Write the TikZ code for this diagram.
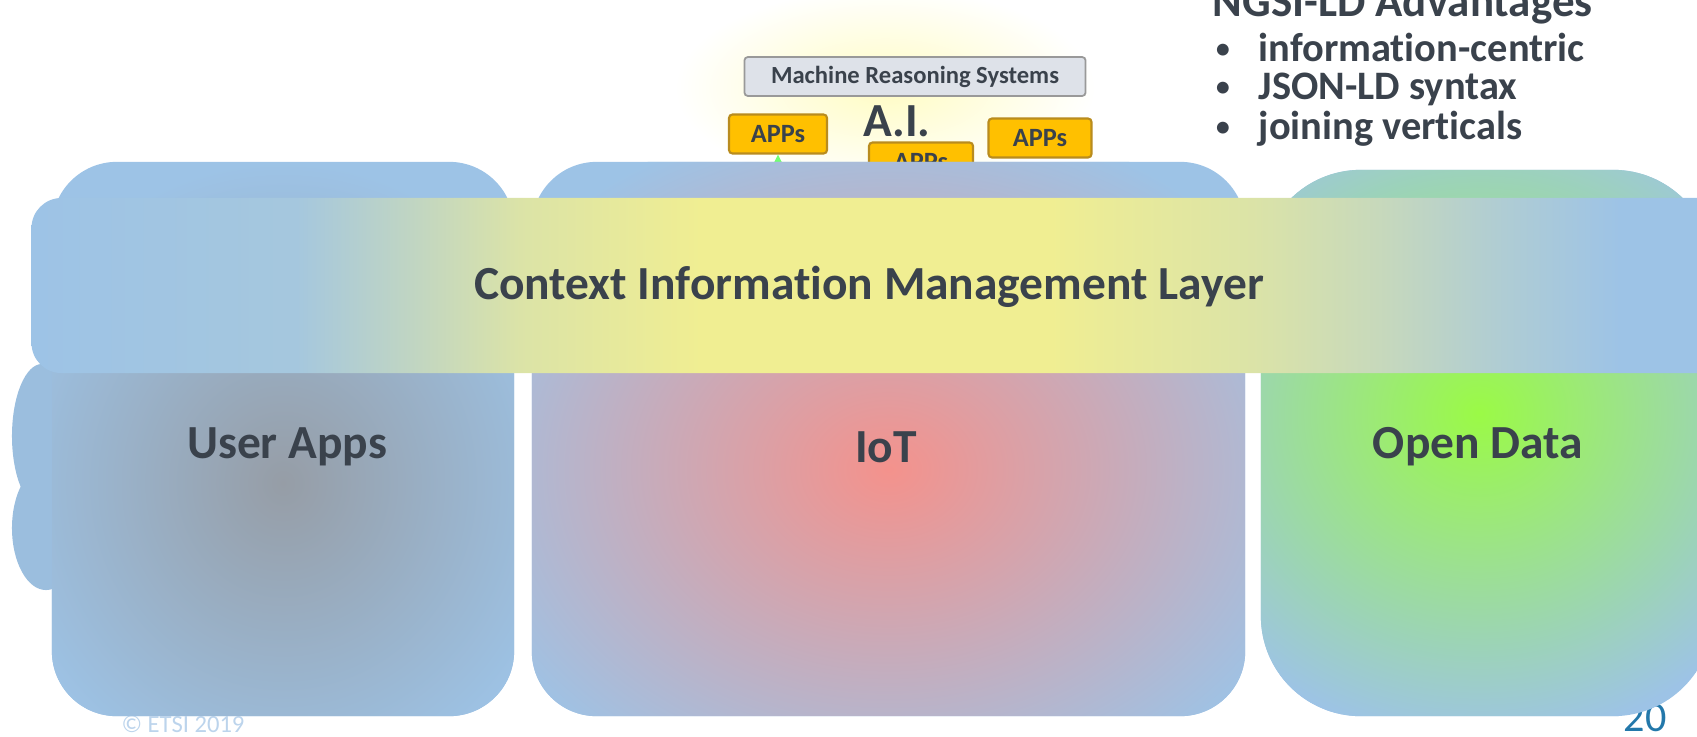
\documentclass[tikz,border=0pt]{standalone}
\usepackage{fontspec}
\setmainfont{Carlito}[Ligatures=NoCommon]
\usetikzlibrary{arrows.meta}

\definecolor{boxblue}{RGB}{157,195,230}
\definecolor{userGray}{RGB}{150,157,166}
\definecolor{iotPink}{RGB}{244,146,140}
\definecolor{dataGreen}{RGB}{155,250,70}
\definecolor{layerYellow}{RGB}{240,238,146}
\definecolor{glowYellow}{RGB}{255,252,196}
\definecolor{appsGold}{RGB}{255,192,0}
\definecolor{appsEdge}{RGB}{185,140,30}
\definecolor{mrsGray}{RGB}{222,226,233}
\definecolor{textDark}{RGB}{58,66,76}
\definecolor{etsiBlue}{RGB}{188,212,236}
\definecolor{pageTeal}{RGB}{35,120,170}

\pgfdeclarehorizontalshading{cimlayer}{100bp}{color(0bp)=(boxblue); color(25bp)=(boxblue);
  color(32.8bp)=(boxblue!90!layerYellow); color(36.4bp)=(boxblue!55!layerYellow);
  color(39.3bp)=(boxblue!25!layerYellow); color(44.6bp)=(layerYellow);
  color(54.8bp)=(layerYellow); color(60.7bp)=(boxblue!25!layerYellow);
  color(64.5bp)=(boxblue!50!layerYellow); color(68bp)=(boxblue!78!layerYellow);
  color(71.5bp)=(boxblue); color(100bp)=(boxblue)}

\begin{document}
\begin{tikzpicture}[x=0.01cm, y=-0.01cm,
    vbox/.style={rounded corners=0.65cm, fill=boxblue, inner sep=0pt},
    layer/.style={rounded corners=0.3cm, shading=cimlayer, inner sep=0pt},
    biglabel/.style={text=textDark, font=\bfseries\fontsize{13.5}{16}\selectfont},
    advtext/.style={text=textDark, inner sep=0pt, font=\bfseries\fontsize{11.5}{14}\selectfont},
    advdot/.style={text=textDark, inner sep=0pt, font=\fontsize{9.5}{10}\selectfont},
    appbox/.style={draw=appsEdge, fill=appsGold, line width=0.6pt, rounded corners=1pt,
      minimum height=0.39cm, inner sep=0pt, text=textDark,
      font=\bfseries\fontsize{7.5}{9}\selectfont},
    mrsbox/.style={draw=gray!80, fill=mrsGray, line width=0.5pt, rounded corners=1pt,
      minimum width=3.41cm, minimum height=0.39cm, inner sep=0pt, text=textDark,
      font=\bfseries\fontsize{7}{8}\selectfont},
    feedarrow/.style={-{Stealth[length=5pt,width=5pt]}, draw=green!55!white, line width=1pt}]
  \useasboundingbox (0,0) rectangle (1697,736);

  \shade[inner color=glowYellow, outer color=white] (885,88) ellipse (2.1cm and 1cm);

  \node[text=etsiBlue, font=\fontsize{7}{8}\selectfont] (etsi) at (183,724) {© ETSI 2019};
  \node[text=pageTeal, anchor=base, font=\fontsize{12}{14}\selectfont] (pagenum) at (1645,731) {20};

  \node[mrsbox] (mrs) at (915,76.5) {Machine Reasoning Systems};
  \node[appbox, minimum width=0.98cm] (appsl) at (778,134) {APPs};
  \node[appbox, minimum width=1.04cm] (appsm) at (921,162) {APPs};
  \node[appbox, minimum width=1.03cm] (appsr) at (1040,138) {APPs};
  \node[text=textDark, font=\bfseries\fontsize{13.5}{16}\selectfont] (ai) at (897,121) {A.I.};
  \coordinate (feed) at (778,240);
  \draw[feedarrow] (feed) -- (appsl);

  \fill[boxblue!92!gray] (42,436) ellipse (0.3cm and 0.72cm);
  \fill[boxblue!92!gray] (46,528) ellipse (0.34cm and 0.62cm);

  \node[vbox, minimum width=4.62cm, minimum height=5.54cm,
    path picture={\shade[inner color=userGray, outer color=boxblue]
      ([yshift=-0.45cm]path picture bounding box.center) ellipse (3cm and 3.2cm);}]
    (userapps) at (283,439) {};
  \node[vbox, minimum width=7.13cm, minimum height=5.54cm,
    path picture={\shade[inner color=iotPink, outer color=boxblue]
      ([yshift=-0.3cm]path picture bounding box.center) ellipse (4.6cm and 3.6cm);}]
    (iot) at (888.5,439) {};
  \node[vbox, rounded corners=1cm, minimum width=4.52cm, minimum height=5.46cm,
    path picture={\shade[inner color=dataGreen, outer color=boxblue]
      ([xshift=-0.08cm, yshift=0.3cm]path picture bounding box.center) ellipse (3.5cm and 3.3cm);}]
    (opendata) at (1487,443) {};

  \node[layer, minimum width=17.08cm, minimum height=1.75cm] (cim) at (886,285.5) {};

  \node[biglabel] (cimlabel) at (869,287) {Context Information Management Layer};
  \node[biglabel] (userlabel) at (287,447) {User Apps};
  \node[biglabel] (iotlabel) at (886,447) {IoT};
  \node[biglabel] (datalabel) at (1478,447) {Open Data};

  \node[advtext, anchor=base west, font=\bfseries\fontsize{12.8}{15}\selectfont] (advtitle) at (1212,16) {NGSI-LD Advantages};
  \node[advtext, anchor=base west] (adv1) at (1258,61) {information-centric};
  \node[advtext, anchor=base west] (adv2) at (1258,99) {JSON-LD syntax};
  \node[advtext, anchor=base west] (adv3) at (1258,139) {joining verticals};
  \node[advdot] (dot1) at (1223,52) {\textbullet};
  \node[advdot] (dot2) at (1223,90) {\textbullet};
  \node[advdot] (dot3) at (1223,130) {\textbullet};
\end{tikzpicture}
\end{document}
